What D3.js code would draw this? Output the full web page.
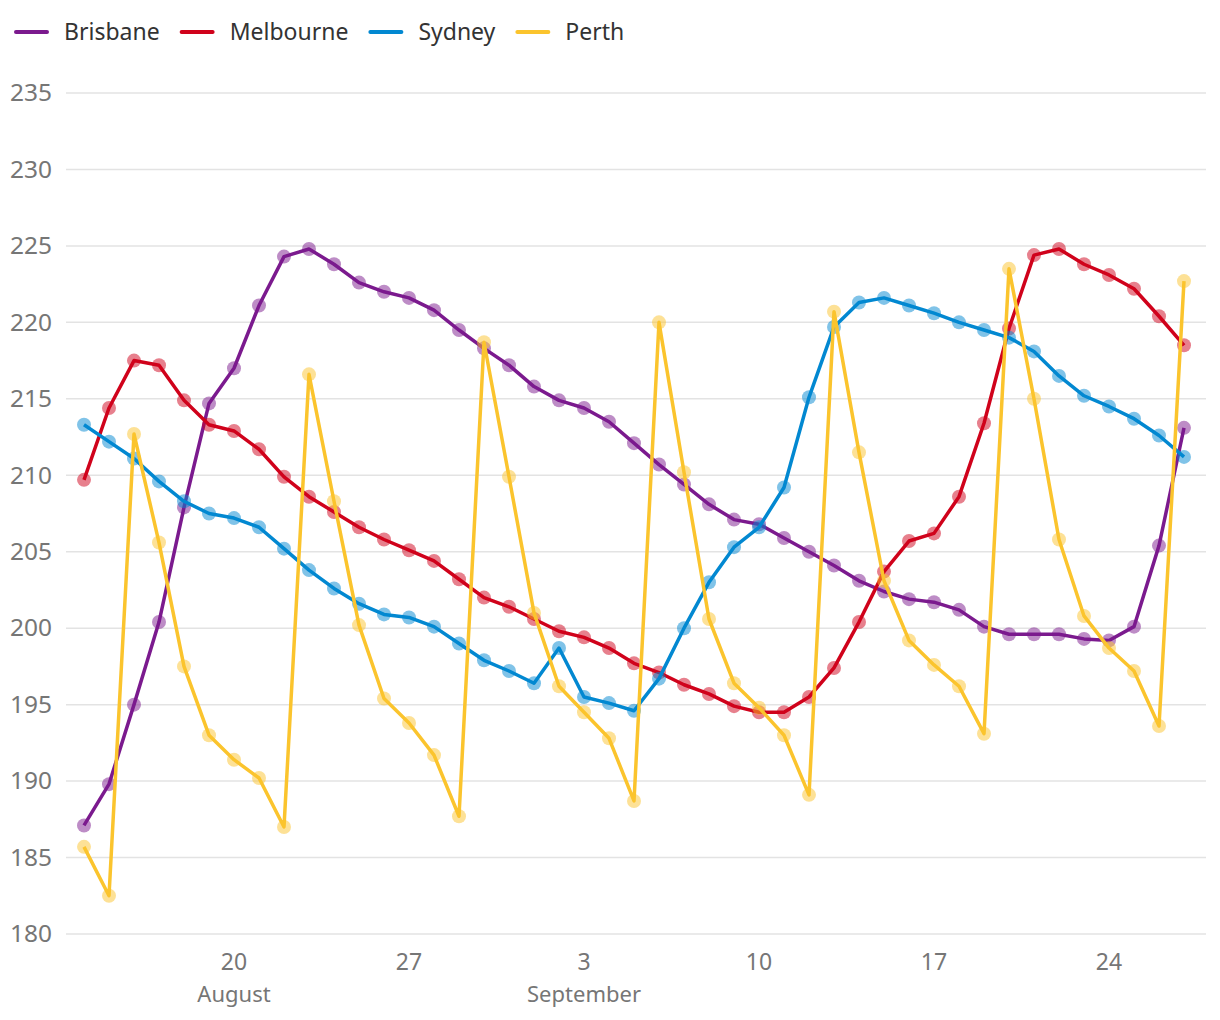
<!DOCTYPE html>
<html>
<head>
<meta charset="utf-8">
<script src="https://cdn.jsdelivr.net/npm/d3@7"></script>
<style>
  html, body { margin: 0; padding: 0; background: #fff; }
  svg { display: block; }
  text { font-family: "Noto Sans", "DejaVu Sans", sans-serif; }
</style>
</head>
<body>
<svg id="chart" width="1220" height="1020"></svg>
<script>
const startDate = "2018-08-14";
const seriesNames = ["Brisbane", "Melbourne", "Sydney", "Perth"];
const seriesColors = ["#7b1a8e", "#d0021b", "#0288d1", "#fbc42d"];

const brisbane = [187.1, 189.8, 195.0, 200.4, 207.9, 214.7, 217.0, 221.1, 224.3, 224.8,
  223.8, 222.6, 222.0, 221.6, 220.8, 219.5, 218.3, 217.2, 215.8, 214.9,
  214.4, 213.5, 212.1, 210.7, 209.4, 208.1, 207.1, 206.8, 205.9, 205.0,
  204.1, 203.1, 202.4, 201.9, 201.7, 201.2, 200.1, 199.6, 199.6, 199.6,
  199.3, 199.2, 200.1, 205.4, 213.1];
const melbourne = [209.7, 214.4, 217.5, 217.2, 214.9, 213.3, 212.9, 211.7, 209.9, 208.6,
  207.6, 206.6, 205.8, 205.1, 204.4, 203.2, 202.0, 201.4, 200.6, 199.8,
  199.4, 198.7, 197.7, 197.1, 196.3, 195.7, 194.9, 194.5, 194.5, 195.5,
  197.4, 200.4, 203.7, 205.7, 206.2, 208.6, 213.4, 219.6, 224.4, 224.8,
  223.8, 223.1, 222.2, 220.4, 218.5];
const sydney = [213.3, 212.2, 211.1, 209.6, 208.3, 207.5, 207.2, 206.6, 205.2, 203.8,
  202.6, 201.6, 200.9, 200.7, 200.1, 199.0, 197.9, 197.2, 196.4, 198.7,
  195.5, 195.1, 194.6, 196.7, 200.0, 203.0, 205.3, 206.6, 209.2, 215.1,
  219.7, 221.3, 221.6, 221.1, 220.6, 220.0, 219.5, 219.0, 218.1, 216.5,
  215.2, 214.5, 213.7, 212.6, 211.2];
const perth = [185.7, 182.5, 212.7, 205.6, 197.5, 193.0, 191.4, 190.2, 187.0, 216.6,
  208.3, 200.2, 195.4, 193.8, 191.7, 187.7, 218.7, 209.9, 201.0, 196.2,
  194.5, 192.8, 188.7, 220.0, 210.2, 200.6, 196.4, 194.8, 193.0, 189.1,
  220.7, 211.5, 203.1, 199.2, 197.6, 196.2, 193.1, 223.5, 215.0, 205.8,
  200.8, 198.7, 197.2, 193.6, 222.7];
const yTicks = [180, 185, 190, 195, 200, 205, 210, 215, 220, 225, 230, 235];
const xTickDays = ["2018-08-20", "2018-08-27", "2018-09-03", "2018-09-10", "2018-09-17", "2018-09-24"];
const monthLabels = {"2018-08-20": "August", "2018-09-03": "September"};

const seriesValues = [brisbane, melbourne, sydney, perth];
const parse = d3.utcParse("%Y-%m-%d");
const start = parse(startDate);
const dates = brisbane.map((_, i) => d3.utcDay.offset(start, i));

const svg = d3.select("#chart");
const x = d3.scaleUtc().domain([dates[0], dates[dates.length - 1]]).range([84, 1184]);
const y = d3.scaleLinear().domain([180, 235]).range([934, 93]);
const gridLeft = 66, gridRight = 1206;

// grid
const yAxis = svg.append("g");
yTicks.forEach(t => {
  yAxis.append("line")
    .attr("x1", gridLeft).attr("x2", gridRight)
    .attr("y1", y(t)).attr("y2", y(t))
    .attr("stroke", "#e3e3e3").attr("stroke-width", 1.5);
  yAxis.append("text")
    .attr("x", 52).attr("y", y(t))
    .attr("dy", "0.36em")
    .attr("text-anchor", "end")
    .attr("font-size", 23)
    .attr("textLength", 42)
    .attr("lengthAdjust", "spacingAndGlyphs")
    .attr("fill", "#767676")
    .text(t);
});

// x axis labels
const xAxis = svg.append("g");
xTickDays.forEach(ds => {
  const d = parse(ds);
  xAxis.append("text")
    .attr("x", x(d)).attr("y", 970)
    .attr("text-anchor", "middle")
    .attr("font-size", 23)
    .attr("fill", "#767676")
    .text(d3.utcFormat("%-d")(d));
  if (monthLabels[ds]) {
    xAxis.append("text")
      .attr("x", x(d)).attr("y", 1002)
      .attr("text-anchor", "middle")
      .attr("font-size", 22)
      .attr("fill", "#767676")
      .text(monthLabels[ds]);
  }
});

const line = d3.line().x((d, i) => x(dates[i])).y(d => y(d));

// lines and dots per series
seriesValues.forEach((vals, s) => {
  const g = svg.append("g");
  g.append("path")
    .attr("d", line(vals))
    .attr("fill", "none")
    .attr("stroke", seriesColors[s])
    .attr("stroke-width", 3.5)
    .attr("stroke-linejoin", "round");
  g.selectAll("circle").data(vals).join("circle")
    .attr("cx", (d, i) => x(dates[i]))
    .attr("cy", d => y(d))
    .attr("r", 7)
    .attr("fill", seriesColors[s])
    .attr("fill-opacity", 0.5);
});

// legend
const legend = svg.append("g");
let lx = 16;
seriesNames.forEach((name, s) => {
  legend.append("line")
    .attr("x1", lx).attr("x2", lx + 31)
    .attr("y1", 32).attr("y2", 32)
    .attr("stroke", seriesColors[s]).attr("stroke-width", 4)
    .attr("stroke-linecap", "round");
  const t = legend.append("text")
    .attr("x", lx + 48).attr("y", 32)
    .attr("dy", "0.36em")
    .attr("font-size", 23)
    .attr("fill", "#333")
    .text(name);
  lx = lx + 48 + t.node().getComputedTextLength() + 22;
});
</script>
</body>
</html>
